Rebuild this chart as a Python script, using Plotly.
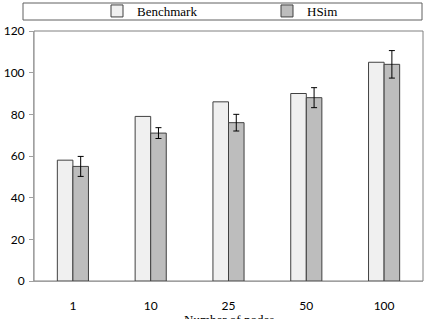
import plotly.graph_objects as go

categories = ["1", "10", "25", "50", "100"]
benchmark = [58, 79, 86, 90, 105]
hsim = [55, 71, 76, 88, 104]
hsim_err = [4.8, 2.6, 4.0, 4.8, 6.6]
y_ticks = [0, 20, 40, 60, 80, 100, 120]

fig = go.Figure()
fig.add_trace(go.Bar(
    x=categories, y=benchmark, name="Benchmark",
    marker=dict(color="#f0f0f0", line=dict(color="#404040", width=1)),
))
fig.add_trace(go.Bar(
    x=categories, y=hsim, name="HSim",
    marker=dict(color="#bdbdbd", line=dict(color="#404040", width=1)),
    error_y=dict(type="data", array=hsim_err, color="#000000", thickness=1, width=3),
))

fig.update_layout(
    width=427, height=319,
    margin=dict(l=34, r=4, t=31, b=38, autoexpand=False),
    paper_bgcolor="white", plot_bgcolor="white",
    barmode="group", bargap=0.6, bargroupgap=0,
    showlegend=True,
    legend=dict(
        orientation="h", x=(97 - 34) / 389, xanchor="left",
        y=(281 + 4) / 250, yanchor="top",
        xref="paper", yref="paper",
        font=dict(family="Liberation Serif", size=13, color="#000000"),
        entrywidth=125, itemwidth=30, bgcolor="rgba(0,0,0,0)",
        tracegroupgap=0,
    ),
    font=dict(family="Lato", size=12, color="#000000"),
)

fig.update_yaxes(
    range=[0, 120], tickvals=y_ticks, showgrid=False, zeroline=False,
    showline=True, linecolor="#a0a0a0", linewidth=1,
    ticks="outside", ticklen=4, tickcolor="#a0a0a0",
    ticklabelstandoff=2,
    tickfont=dict(family="Lato", size=12, color="#000000"),
)
fig.update_xaxes(
    showgrid=False, showline=True, linecolor="#a0a0a0", linewidth=1,
    ticks="", ticklabelstandoff=14,
    tickfont=dict(family="Lato", size=12, color="#000000"),
)

# plot area border
fig.add_shape(type="rect", xref="paper", yref="paper", x0=0, x1=1, y0=0, y1=1,
              line=dict(color="#808080", width=1), layer="below")
# legend box
fig.add_shape(type="rect", xref="paper", yref="paper",
              x0=(23 - 34) / 389, x1=(422 - 34) / 389,
              y0=(281 - 20) / 250, y1=(281 - 3) / 250,
              line=dict(color="#606060", width=1))

fig.add_annotation(
    text="Number of nodes", xref="paper", yref="paper", x=0.5, y=-0.118,
    xanchor="center", yanchor="top", showarrow=False,
    font=dict(family="Liberation Serif", size=13, color="#000000"),
)

fig.write_html("out.html")
